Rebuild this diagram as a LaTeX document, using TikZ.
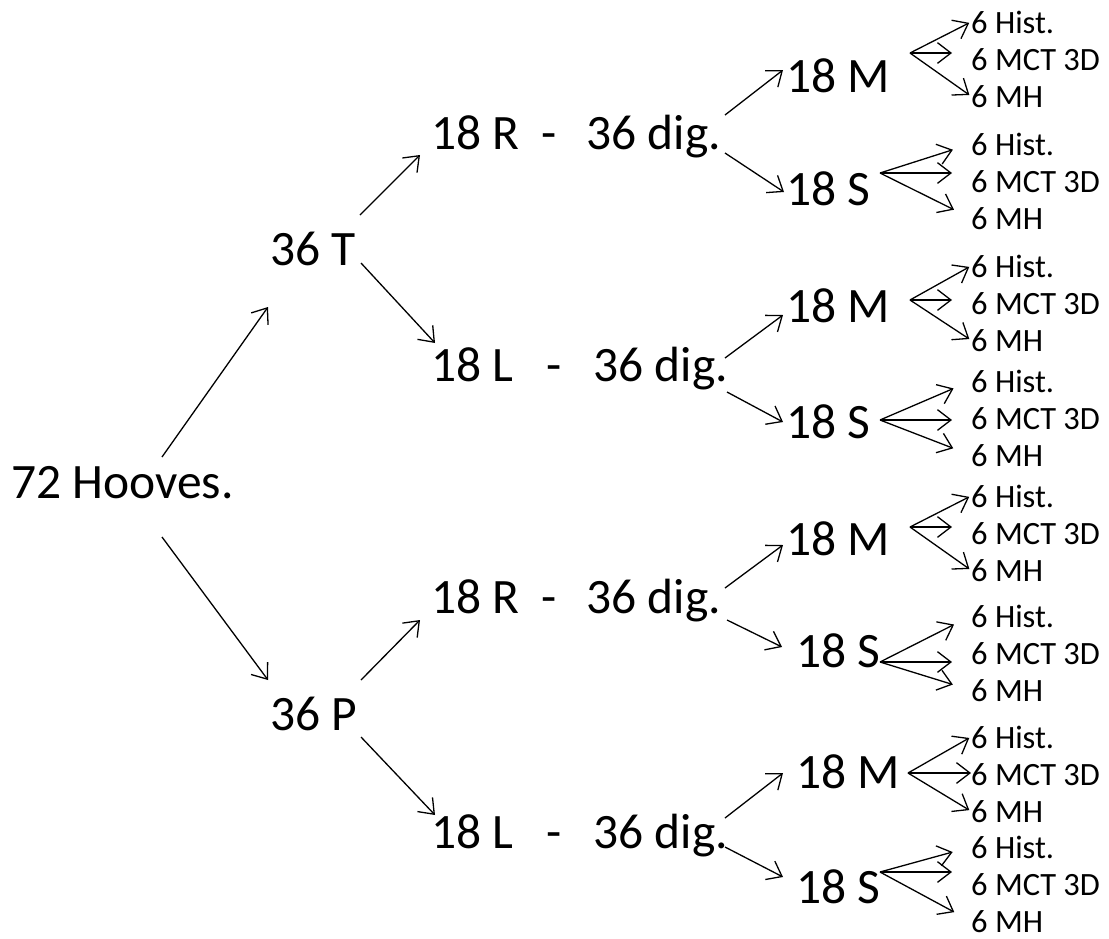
\documentclass[tikz,border=0pt]{standalone}
\usepackage{fontspec}
\setmainfont{Carlito}
\usetikzlibrary{arrows.meta}
\newcommand{\bigtext}{\fontsize{49.5pt}{54pt}\selectfont}
\newcommand{\leaftext}{\fontsize{32.5pt}{36pt}\selectfont}
\tikzset{
	big/.style={inner sep=0pt, anchor=base west, font=\bigtext},
	leaf/.style={inner sep=0pt, anchor=base west, font=\leaftext},
	arr/.style={-{Straight Barb[angle=75:17pt]}, line width=1.3pt}
}
\newcommand{\leafset}[5] % parent, junction shift, first baseline, outer gap, middle gap
{
	% junction of the three arrows
	\coordinate (#1j) at ([shift={#2}]#1.base west);
	% the three leaves
	\node[leaf] (#1a) at (971,#3) {6 Hist.};
	\node[leaf] (#1b) at (971,#3+37) {6 MCT 3D};
	\node[leaf] (#1c) at (971,#3+74) {6 MH};
	% arrows
	\draw[arr, shorten >=#4] (#1j) -- (#1a.west);
	\draw[arr, shorten >=#5] (#1j) -- (#1j -| #1b.west);
	\draw[arr, shorten >=#4] (#1j) -- (#1c.west);
}

\begin{document}
\begin{tikzpicture}[x=1pt,y=-1pt]
	\useasboundingbox (0,0) rectangle (1109,938);
	% root and first split
	\node[big] (h) at (11,498) {72 Hooves.};
	\node[big] (t) at (270,265) {36 T};
	\node[big] (p) at (270,730) {36 P};
	\draw[arr] ([shift={(151,-41)}]h.base west) -- ([shift={(-2,42)}]t.base west);
	\draw[arr] ([shift={(151,39)}]h.base west) -- ([shift={(-2,-50)}]p.base west);
	
	% second split
	\node[big] (tr) at (431,149) {18 R\hspace{22pt}-\hspace{30pt}36 dig.};
	\node[big] (tl) at (431,381) {18 L\hspace{33pt}-\hspace{32pt}36 dig.};
	\node[big] (pr) at (431,613) {18 R\hspace{22pt}-\hspace{30pt}36 dig.};
	\node[big] (pl) at (431,848) {18 L\hspace{33pt}-\hspace{32pt}36 dig.};
	\draw[arr] ([shift={(90,-50)}]t.base west) -- ([shift={(-11,6)}]tr.base west);
	\draw[arr] ([shift={(91,-2)}]t.base west) -- ([shift={(4,-38)}]tl.base west);
	\draw[arr] ([shift={(91,-50)}]p.base west) -- ([shift={(-11,7)}]pr.base west);
	\draw[arr] ([shift={(91,7)}]p.base west) -- ([shift={(4,-33)}]pl.base west);
	
	% third split
	\node[big] (trm) at (786,92) {18 M};
	\node[big] (trs) at (786,205) {18 S};
	\node[big] (tlm) at (786,322) {18 M};
	\node[big] (tls) at (786,438) {18 S};
	\node[big] (prm) at (786,555) {18 M};
	\node[big] (prs) at (796,667) {18 S};
	\node[big] (plm) at (796,788) {18 M};
	\node[big] (pls) at (796,903) {18 S};
	\draw[arr] ([shift={(294,-34)}]tr.base west) -- ([shift={(-3,-22)}]trm.base west);
	\draw[arr] ([shift={(294,4)}]tr.base west) -- ([shift={(-2,-13)}]trs.base west);
	\draw[arr] ([shift={(294,-23)}]tl.base west) -- ([shift={(-3,-7)}]tlm.base west);
	\draw[arr] ([shift={(296,11)}]tl.base west) -- ([shift={(-3,-16)}]tls.base west);
	\draw[arr] ([shift={(294,-25)}]pr.base west) -- ([shift={(-3,-10)}]prm.base west);
	\draw[arr] ([shift={(296,7)}]pr.base west) -- ([shift={(-14,-20)}]prs.base west);
	\draw[arr] ([shift={(294,-30)}]pl.base west) -- ([shift={(-13,-15)}]plm.base west);
	\draw[arr] ([shift={(294,-1)}]pl.base west) -- ([shift={(-13,-26)}]pls.base west);
	
	% leaves
	\leafset{trm}{(124,-39)}{33}{2pt}{19pt}
	\leafset{trs}{(94,-32)}{155}{19pt}{19pt}
	\leafset{tlm}{(124,-22)}{277}{2pt}{19pt}
	\leafset{tls}{(94,-18)}{392}{19pt}{19pt}
	\leafset{prm}{(124,-28)}{507}{2pt}{19pt}
	\leafset{prs}{(84,-5)}{627}{19pt}{19pt}
	\leafset{plm}{(112,-15)}{748}{2pt}{0pt}
	\leafset{pls}{(84,-31)}{858}{19pt}{19pt}
\end{tikzpicture}
\end{document}
